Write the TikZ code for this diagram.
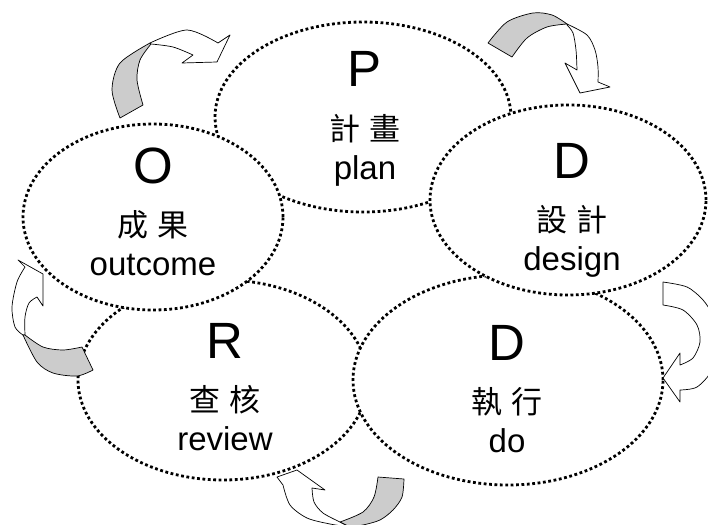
\documentclass[tikz,border=0pt]{standalone}
\usepackage{fontspec}
\setmainfont{Liberation Sans}
\newfontfamily\zhfont{Noto Sans CJK TC}
\usetikzlibrary{shapes.geometric}

\newcommand\zhpair[2]{#1\kern9pt#2}

\begin{document}
\begin{tikzpicture}[x=1pt, y=-1pt,
  stage/.style = {ellipse, draw, fill=white, line width=2.8pt, dash pattern=on 2.8pt off 2.6pt, inner sep=0pt},
  ltr/.style = {anchor=base, inner sep=0pt, font=\fontsize{51}{51}\selectfont},
  zh/.style = {anchor=base, inner sep=0pt, font=\fontsize{31}{31}\zhfont},
  en/.style = {anchor=base, inner sep=0pt, font=\fontsize{33}{33}\selectfont},
  band/.style = {draw, line width=.7pt, line join=round, fill=white},
  twist/.style = {band, fill=black!20}]

\useasboundingbox (0,0) rectangle (708,524);
\clip (0,0) rectangle (708,524);

\foreach \nm/\cx/\cy/\w/\h in {plan/363/117/296/190, review/223/380/290/200, do/508/380/310/210, outcome/153/217/260/186, design/568/200/276/190}
  \node[stage, minimum width=\w pt, minimum height=\h pt] (\nm) at (\cx,\cy) {};

\foreach \nm/\tx/\ty/\ltr/\zh/\en in {plan/365/87/P/計畫/plan, outcome/153/183/O/成果/outcome, design/572/178/D/設計/design, review/225/358/R/查核/review, do/507/360/D/執行/do} {
  \node[ltr] (\nm-ltr) at (\tx,\ty) {\ltr};
  \node[zh] (\nm-zh) at (\tx,\ty+53) {\expandafter\zhpair\zh};
  \node[en] (\nm-en) at (\tx,\ty+92) {\en};
}

% outcome -> plan
\draw[twist] plot[smooth] coordinates {(143,105) (137,80) (140,60) (151,44)} -- plot[smooth] coordinates {(150,43) (120,63) (112,90) (120,118)} -- cycle;
\draw[band] plot[smooth] coordinates {(150,43) (187,30) (218,43)} -- (230,35) -- (217,62) -- (182,63) -- plot[smooth] coordinates {(193,55) (173,47) (151,44)} -- cycle;

% plan -> design
\draw[twist] plot[smooth] coordinates {(488,43) (507,22) (533,13) (552,15) (567,24)} -- plot[smooth] coordinates {(567,24) (547,27) (527,38) (512,57)} -- cycle;
\draw[band] plot[smooth] coordinates {(567,24) (587,35) (595,50) (598,67) (598,82)} -- (610,87) -- (580,93) -- (565,63) -- plot[smooth] coordinates {(577,70) (576,50) (573,33) (567,25)} -- cycle;

% design -> do
\draw[band] plot[smooth] coordinates {(663,282) (687,287) (703,300) (712,315) (718,343) (712,370) (697,387) (680,390)} -- (680,402) -- (663,378) -- (680,353) -- plot[smooth] coordinates {(680,365) (693,358) (700,342) (697,325) (683,310) (663,305)} -- cycle;

% do -> review
\draw[band] (297,470) -- (325,490) -- plot[smooth] coordinates {(312,488) (314,502) (323,513) (340,522)} -- (350,527) -- plot[smooth] coordinates {(350,527) (330,524) (307,518) (290,505) (283,485)} -- (277,477) -- cycle;
\draw[twist] plot[smooth] coordinates {(340,522) (363,512) (374,497) (378,477)} -- (404,479) -- plot[smooth] coordinates {(404,479) (402,497) (393,510) (380,520) (363,525) (350,527)} -- cycle;

% review -> outcome
\draw[band] (18,260) -- (43,274) -- (43,306) -- plot[smooth] coordinates {(37,297) (29,303) (25,317) (25,335)} -- plot[smooth] coordinates {(23,335) (15,327) (12,307) (17,282) (25,267)} -- cycle;
\draw[twist] plot[smooth] coordinates {(25,335) (43,347) (63,350) (82,347)} -- (93,370) -- plot[smooth] coordinates {(93,370) (77,376) (53,373) (37,362) (23,335)} -- cycle;

\end{tikzpicture}
\end{document}
